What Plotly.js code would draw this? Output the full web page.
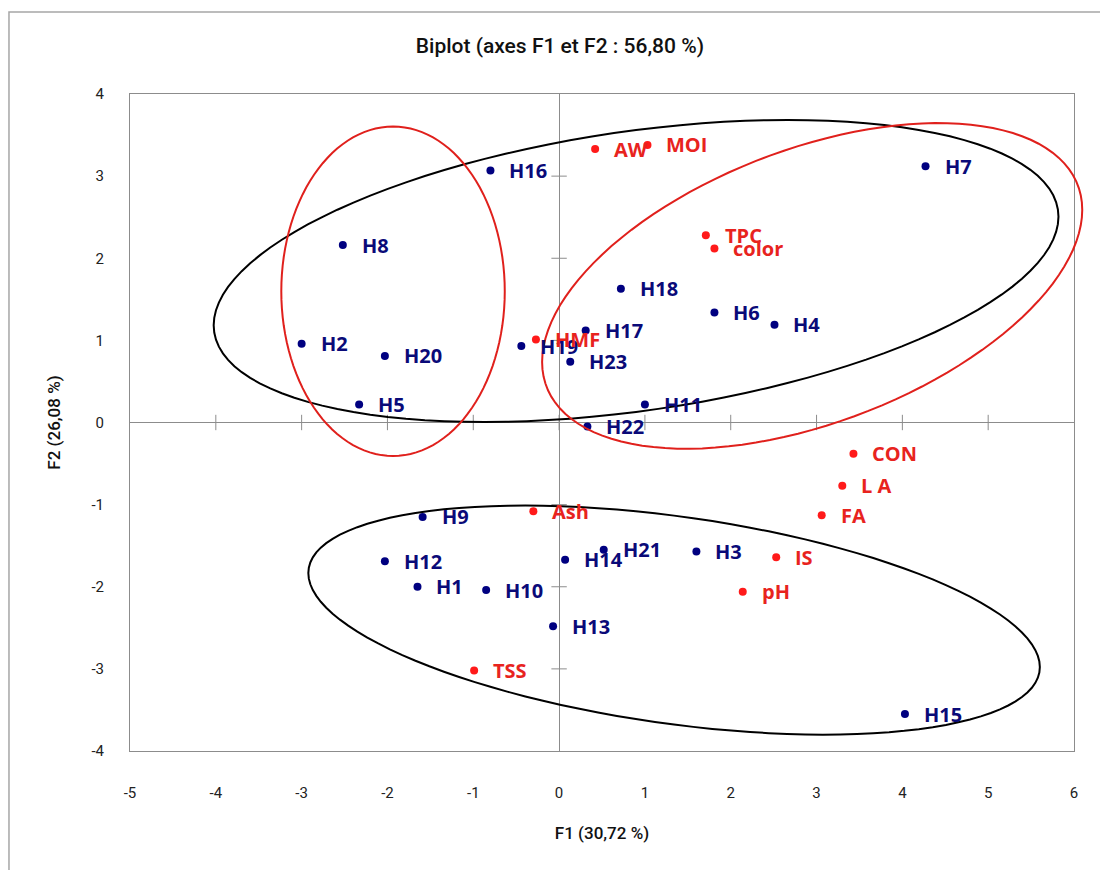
<!DOCTYPE html>
<html>
<head>
<meta charset="utf-8">
<script src="https://cdn.plot.ly/plotly-3.0.1.min.js"></script>
<style>html,body{margin:0;padding:0;background:#fff;}#chart{width:1100px;height:870px;}</style>
</head>
<body>
<div id="chart"></div>
<script>
// Observations (blue)
const obsNames = ["H1","H2","H3","H4","H5","H6","H7","H8","H9","H10","H11","H12","H13","H14","H15","H16","H17","H18","H19","H20","H21","H22","H23"];
const obsF1 = [-1.65,-3.00,1.60,2.51,-2.33,1.81,4.27,-2.52,-1.59,-0.85,1.00,-2.03,-0.07,0.07,4.03,-0.80,0.31,0.72,-0.44,-2.03,0.52,0.33,0.13];
const obsF2 = [-2.00,0.96,-1.57,1.19,0.22,1.34,3.12,2.16,-1.15,-2.04,0.22,-1.69,-2.48,-1.67,-3.55,3.07,1.12,1.63,0.93,0.81,-1.55,-0.05,0.74];

// Variables (red)
const varNames = ["AW","MOI","TPC","color","HMF","CON","L A","FA","IS","pH","Ash","TSS"];
const varF1 = [0.42,1.03,1.71,1.81,-0.27,3.43,3.30,3.06,2.53,2.14,-0.30,-0.99];
const varF2 = [3.33,3.38,2.28,2.12,1.01,-0.38,-0.77,-1.13,-1.64,-2.06,-1.08,-3.02];

// Axis ticks
const xTicks = [-5,-4,-3,-2,-1,0,1,2,3,4,5,6];
const yTicks = [-4,-3,-2,-1,0,1,2,3,4];
const XRANGE = [-5, 6];
const YRANGE = [-4, 4];

// Group ellipses (centre, conjugate semi-diameters U and V, in F1/F2 units)
const groups = [
  {c:[0.897,1.845], u:[4.922,0.661], v:[0,1.716], color:"#000000"},
  {c:[-1.935,1.598], u:[1.302,0], v:[0,2.006], color:"#e0201c"},
  {c:[2.949,1.663], u:[3.147,0.926], v:[0,1.753], color:"#e0201c"},
  {c:[1.340,-2.406], u:[4.262,-0.572], v:[0,1.272], color:"#000000"}
];

function toPaper(x, y){
  return [(x - XRANGE[0])/(XRANGE[1]-XRANGE[0]), (y - YRANGE[0])/(YRANGE[1]-YRANGE[0])];
}
function ellipsePath(g){
  let d = "";
  const n = 120;
  for(let i=0;i<=n;i++){
    const t = 2*Math.PI*i/n;
    const x = g.c[0] + g.u[0]*Math.cos(t) + g.v[0]*Math.sin(t);
    const y = g.c[1] + g.u[1]*Math.cos(t) + g.v[1]*Math.sin(t);
    const p = toPaper(x,y);
    d += (i===0 ? "M" : "L") + p[0].toFixed(5) + "," + p[1].toFixed(5);
  }
  return d + "Z";
}

const navy = "#0a0a78";
const red = "#ff1a1a";
const labelFont = {family:"Open Sans, DejaVu Sans, sans-serif", size:20, weight:"bold"};

const innerX = xTicks.filter(v=>v!==XRANGE[0] && v!==XRANGE[1]);
const innerY = yTicks.filter(v=>v!==YRANGE[0] && v!==YRANGE[1]);

const traces = [
  { // cross ticks on the zero axes
    x: innerX, y: innerX.map(()=>0),
    mode:"markers", type:"scatter", hoverinfo:"skip", showlegend:false,
    marker:{symbol:"line-ns", size:11, line:{width:1, color:"#8c8c8c"}}
  },
  {
    x: innerY.map(()=>0), y: innerY,
    mode:"markers", type:"scatter", hoverinfo:"skip", showlegend:false,
    marker:{symbol:"line-ew", size:11, line:{width:1, color:"#8c8c8c"}}
  },
  {
    x: obsF1, y: obsF2, text: obsNames, mode:"markers", type:"scatter", showlegend:false,
    marker:{size:8, color:"#000080"}, cliponaxis:false
  },
  {
    x: varF1, y: varF2, text: varNames, mode:"markers", type:"scatter", showlegend:false,
    marker:{size:8, color:red}, cliponaxis:false
  }
];

const annotations = [];
obsNames.forEach((n,i)=>annotations.push({x:obsF1[i], y:obsF2[i], text:n, showarrow:false, xanchor:"left", yanchor:"middle", xshift:17, font:Object.assign({color:navy}, labelFont)}));
varNames.forEach((n,i)=>annotations.push({x:varF1[i], y:varF2[i], text:n, showarrow:false, xanchor:"left", yanchor:"middle", xshift:17, font:Object.assign({color:"#e8231e"}, labelFont)}));

const shapes = groups.map(g=>({type:"path", xref:"paper", yref:"paper", path:ellipsePath(g), line:{color:g.color, width:2}, layer:"above"}));
// outer chart frame
shapes.push({type:"rect", xref:"paper", yref:"paper", x0:-0.1282, x1:1.05, y0:-0.25, y1:1.1248, line:{color:"#a6a6a6", width:1.5}, layer:"below"});

const layout = {
  width:1100, height:870,
  margin:{l:130, r:26, t:94, b:119},
  paper_bgcolor:"#ffffff", plot_bgcolor:"#ffffff",
  showlegend:false,
  title:{text:"Biplot (axes F1 et F2 : 56,80 %)", xref:"container", x:0.509, xanchor:"center", yref:"container", y:0.948, yanchor:"middle",
         font:{family:"Roboto, sans-serif", size:21, weight:500, color:"#111"}},
  xaxis:{range:XRANGE, tickvals:xTicks, ticktext:xTicks.map(String), showgrid:false, zeroline:true, zerolinecolor:"#8c8c8c", zerolinewidth:1,
         showline:true, mirror:true, linecolor:"#8c8c8c", linewidth:1, ticks:"", ticklabelstandoff:28,
         tickfont:{family:"Roboto, sans-serif", size:15, color:"#222"},
         title:{text:"F1 (30,72 %)", standoff:26, font:{family:"Roboto, sans-serif", size:17, weight:500, color:"#111"}}},
  yaxis:{range:YRANGE, tickvals:yTicks, ticktext:yTicks.map(String), showgrid:false, zeroline:true, zerolinecolor:"#8c8c8c", zerolinewidth:1,
         showline:true, mirror:true, linecolor:"#8c8c8c", linewidth:1, ticks:"", ticklabelstandoff:22,
         tickfont:{family:"Roboto, sans-serif", size:15, color:"#222"},
         title:{text:"F2 (26,08 %)", standoff:26, font:{family:"Roboto, sans-serif", size:17, weight:500, color:"#111"}}},
  shapes: shapes,
  annotations: annotations
};

Plotly.newPlot("chart", traces, layout, {displayModeBar:false, staticPlot:true});
</script>
</body>
</html>
